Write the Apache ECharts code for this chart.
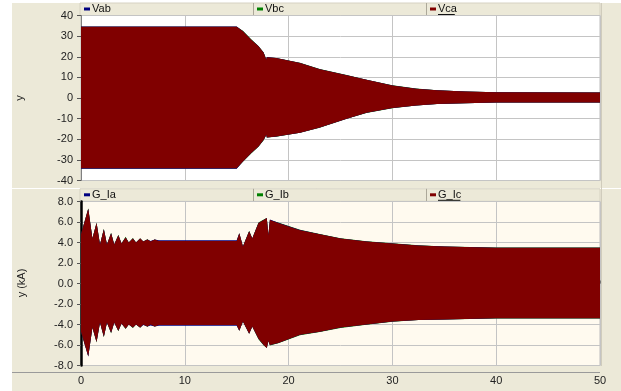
<!DOCTYPE html>
<html>
<head>
<meta charset="utf-8">
<script src="https://cdn.jsdelivr.net/npm/echarts/dist/echarts.min.js"></script>
<style>
  html, body { margin: 0; padding: 0; background: #ffffff; }
  #chart { width: 621px; height: 391px; }
</style>
</head>
<body>
<div id="chart"></div>
<script>
// ---- Line voltages: envelope of the (dense) waveforms, upper / lower bound ----
const vTime   = [0, 15.0, 15.6, 16.4, 17.1, 17.6, 17.85, 17.9, 18.8, 21.1, 23.0, 25.6, 27.5, 30.0, 32.3, 34.3, 37.0, 40.0, 50.0];
const vcaUpper = [34.5, 34.5, 32.4, 28.3, 25.1, 21.9, 18.6, 19.8, 19.4, 17.0, 14.0, 11.0, 8.8, 6.1, 4.5, 3.7, 3.1, 2.8, 2.7];
const vcaLower = [-34.0, -34.0, -30.8, -26.7, -23.5, -20.3, -17.8, -19.1, -18.7, -16.8, -14.3, -10.0, -7.2, -4.9, -3.6, -2.9, -2.5, -2.2, -2.2];
const vabUpper = [34.7, 34.7, 32.4, 28.3, 25.1, 21.9, 18.6, 19.9, 19.4, 17.0, 14.0, 11.0, 8.8, 6.1, 4.5, 3.7, 3.1, 2.8, 2.7];
const vabLower = [-34.25, -34.25, -30.8, -26.7, -23.5, -20.3, -17.8, -19.1, -18.7, -16.8, -14.3, -10.0, -7.2, -4.9, -3.6, -2.9, -2.5, -2.2, -2.2];
const vbcUpper = [34.6, 34.6, 32.55, 28.45, 25.25, 22.05, 18.7, 19.8, 19.45, 17.1, 14.1, 11.1, 8.9, 6.15, 4.55, 3.75, 3.1, 2.8, 2.7];
const vbcLower = [-34.15, -34.15, -30.95, -26.85, -23.65, -20.45, -17.9, -19.15, -18.8, -16.9, -14.4, -10.1, -7.25, -4.95, -3.65, -2.95, -2.5, -2.2, -2.2];

// ---- Generator phase currents (kA): envelope, upper / lower bound ----
const iTime = [0, 0.7, 1.1, 1.5, 1.83, 2.2, 2.5, 2.9, 3.2, 3.6, 3.9, 4.3, 4.6, 5.0, 5.3, 5.7, 6.0, 6.4, 6.7, 7.1, 7.5,
               15.0, 15.25, 15.6, 16.2, 16.5, 17.1, 17.6, 17.9, 18.05, 18.2, 19.0, 21.1, 23.0, 25.0, 27.5, 30.0, 32.5, 35.0, 40.0, 50.0];
const icUpper = [4.8, 7.3, 4.4, 5.9, 3.8, 5.3, 3.8, 4.9, 3.8, 4.7, 3.9, 4.5, 4.0, 4.4, 4.0, 4.4, 4.1, 4.3, 4.1, 4.3, 4.15,
                 4.15, 4.9, 3.6, 5.1, 4.4, 5.9, 6.2, 6.4, 4.7, 6.2, 5.9, 5.2, 4.8, 4.4, 4.1, 3.9, 3.7, 3.6, 3.5, 3.5];
const icLower = [-4.7, -7.1, -4.3, -5.7, -3.8, -5.2, -3.8, -4.8, -3.8, -4.6, -3.9, -4.4, -4.0, -4.3, -4.0, -4.3, -4.0, -4.2, -4.0, -4.2, -4.05,
                 -4.05, -4.6, -3.7, -4.9, -4.2, -5.4, -6.0, -6.3, -5.6, -6.0, -5.8, -5.0, -4.7, -4.3, -4.0, -3.7, -3.55, -3.5, -3.4, -3.4];
const iaUpper = [4.8, 7.3, 4.4, 5.9, 3.8, 5.3, 3.8, 4.9, 3.8, 4.7, 3.9, 4.5, 4.0, 4.4, 4.0, 4.4, 4.1, 4.3, 4.15, 4.3, 4.22,
                 4.22, 4.9, 3.6, 5.1, 4.4, 5.9, 6.2, 6.4, 4.7, 6.25, 5.92, 5.22, 4.8, 4.4, 4.1, 3.9, 3.7, 3.6, 3.5, 3.5];
const iaLower = [-4.7, -7.15, -4.3, -5.7, -3.8, -5.2, -3.8, -4.8, -3.8, -4.6, -3.9, -4.4, -4.0, -4.3, -4.0, -4.3, -4.05, -4.2, -4.1, -4.2, -4.12,
                 -4.12, -4.6, -3.7, -4.9, -4.2, -5.4, -6.0, -6.3, -5.6, -6.0, -5.8, -5.0, -4.7, -4.3, -4.0, -3.7, -3.55, -3.5, -3.4, -3.4];
const ibUpper = [4.8, 7.35, 4.4, 5.95, 3.8, 5.35, 3.8, 4.95, 3.8, 4.75, 3.9, 4.55, 4.0, 4.45, 4.0, 4.42, 4.1, 4.32, 4.1, 4.3, 4.15,
                 4.15, 4.9, 3.6, 5.15, 4.4, 5.95, 6.25, 6.4, 4.7, 6.2, 5.94, 5.24, 4.84, 4.42, 4.12, 3.92, 3.72, 3.62, 3.52, 3.52];
const ibLower = [-4.7, -7.1, -4.3, -5.75, -3.8, -5.25, -3.8, -4.85, -3.8, -4.65, -3.9, -4.45, -4.0, -4.35, -4.0, -4.32, -4.0, -4.22, -4.0, -4.2, -4.05,
                 -4.05, -4.6, -3.7, -4.9, -4.2, -5.45, -6.05, -6.3, -5.6, -6.05, -5.84, -5.04, -4.74, -4.34, -4.02, -3.72, -3.57, -3.52, -3.42, -3.42];

// ---- Axes ----
const timeTicks = { min: 0, max: 50, interval: 10 };
const voltTicks = { min: -40, max: 40, interval: 10 };
const currTicks = { min: -8, max: 8, interval: 2 };

const BEIGE = '#ece9d8';
const GRIDLINE = '#c4c4c4';
const FONT = 'Liberation Sans, Arial, sans-serif';

// Filled band between an upper and lower envelope, drawn as one polygon
function band(name, xi, yi, times, up, lo, color) {
  return {
    type: 'custom', name: name, xAxisIndex: xi, yAxisIndex: yi,
    clip: true, silent: true, z: 3,
    data: times.map((t, i) => [t, up[i], lo[i]]),
    encode: { x: 0, y: [1, 2] },
    renderItem: function (params, api) {
      if (params.dataIndex !== 0) return null;
      const pts = [];
      for (let i = 0; i < times.length; i++) pts.push(api.coord([times[i], up[i]]));
      for (let i = times.length - 1; i >= 0; i--) pts.push(api.coord([times[i], lo[i]]));
      return { type: 'polygon', shape: { points: pts }, style: { fill: color, stroke: null } };
    }
  };
}

// Header strip with three legend cells
function header(y, labels, colors) {
  const els = [];
  els.push({ type: 'rect', shape: { x: 80, y: y, width: 520, height: 12.5 },
             style: { fill: BEIGE, stroke: '#d6d2c2', lineWidth: 1 }, silent: true });
  const cellX = [80, 253, 426];
  [253, 426].forEach(x => els.push({ type: 'line', shape: { x1: x + 0.5, y1: y, x2: x + 0.5, y2: y + 12.5 },
                                      style: { stroke: '#aca899', lineWidth: 1 }, silent: true }));
  labels.forEach((lab, k) => {
    const x0 = cellX[k] + 4;
    els.push({ type: 'rect', shape: { x: x0, y: y + 4.5, width: 6, height: 3 }, style: { fill: colors[k] }, silent: true });
    els.push({ type: 'text', x: x0 + 8, y: y + 6.3,
               style: { text: lab, fill: '#111', font: '11px ' + FONT, textVerticalAlign: 'middle', textAlign: 'left' }, silent: true });
  });
  // active (last) trace is underlined
  const w = labels[2].length * 5.6;
  els.push({ type: 'line', shape: { x1: cellX[2] + 12, y1: y + 11.5, x2: cellX[2] + 12 + w, y2: y + 11.5 },
             style: { stroke: '#111', lineWidth: 1 }, silent: true });
  return els;
}

const chart = echarts.init(document.getElementById('chart'), null, { renderer: 'canvas' });

const option = {
  animation: false,
  backgroundColor: '#ffffff',
  textStyle: { fontFamily: FONT },
  grid: [
    { left: 81, right: 21, top: 15.5, height: 165, show: true, backgroundColor: '#ffffff', borderColor: '#bdbdbd', borderWidth: 1 },
    { left: 81, right: 21, top: 201.5, height: 164, show: true, backgroundColor: '#fffaef', borderColor: '#bdbdbd', borderWidth: 1 }
  ],
  xAxis: [
    { type: 'value', gridIndex: 0, min: timeTicks.min, max: timeTicks.max, interval: timeTicks.interval,
      axisLine: { show: false }, axisTick: { show: false }, axisLabel: { show: false },
      splitLine: { show: true, lineStyle: { color: GRIDLINE, width: 1 } } },
    { type: 'value', gridIndex: 1, min: timeTicks.min, max: timeTicks.max, interval: timeTicks.interval,
      offset: 7,
      axisLine: { show: true, lineStyle: { color: '#9a9a9a', width: 1 } },
      axisTick: { show: true, inside: true, length: 3, lineStyle: { color: '#777' } },
      axisLabel: { show: true, color: '#222', fontSize: 11, fontFamily: FONT, margin: 3 },
      splitLine: { show: true, lineStyle: { color: GRIDLINE, width: 1 } } }
  ],
  yAxis: [
    { type: 'value', gridIndex: 0, min: voltTicks.min, max: voltTicks.max, interval: voltTicks.interval,
      axisLine: { show: true, lineStyle: { color: '#808080', width: 1 } },
      axisTick: { show: true, length: 4, lineStyle: { color: '#555' } },
      axisLabel: { color: '#222', fontSize: 11, fontFamily: FONT, margin: 8 },
      splitLine: { show: true, lineStyle: { color: GRIDLINE, width: 1 } } },
    { type: 'value', gridIndex: 1, min: currTicks.min, max: currTicks.max, interval: currTicks.interval,
      axisLine: { show: true, lineStyle: { color: '#000000', width: 2.5 } },
      axisTick: { show: true, length: 4, lineStyle: { color: '#555' } },
      axisLabel: { color: '#222', fontSize: 11, fontFamily: FONT, margin: 8,
                   formatter: v => v.toFixed(1) },
      splitLine: { show: true, lineStyle: { color: GRIDLINE, width: 1 } } }
  ],
  series: [
    band('Vbc', 0, 0, vTime, vbcUpper, vbcLower, '#008000'),
    band('Vab', 0, 0, vTime, vabUpper, vabLower, '#000080'),
    band('Vca', 0, 0, vTime, vcaUpper, vcaLower, '#800000'),
    band('G_Ib', 1, 1, iTime, ibUpper, ibLower, '#008000'),
    band('G_Ia', 1, 1, iTime, iaUpper, iaLower, '#000080'),
    band('G_Ic', 1, 1, iTime, icUpper, icLower, '#800000')
  ],
  graphic: [
    { type: 'rect', z: -10, shape: { x: 12, y: 3, width: 609, height: 388 }, style: { fill: BEIGE }, silent: true },
    { type: 'line', z: -5, shape: { x1: 12, y1: 188.5, x2: 621, y2: 188.5 }, style: { stroke: '#ffffff', lineWidth: 1 }, silent: true },
    { type: 'line', z: -5, shape: { x1: 12, y1: 372.5, x2: 600, y2: 372.5 }, style: { stroke: '#9a9a9a', lineWidth: 1 }, silent: true },
    { type: 'line', z: -5, shape: { x1: 601.5, y1: 3, x2: 601.5, y2: 366 }, style: { stroke: '#d0ccbc', lineWidth: 1 }, silent: true },
    ...header(3, ['Vab', 'Vbc', 'Vca'], ['#000080', '#008000', '#800000']),
    ...header(188.8, ['G_Ia', 'G_Ib', 'G_Ic'], ['#000080', '#008000', '#800000']),
    { type: 'text', x: 20, y: 98, rotation: Math.PI / 2,
      style: { text: 'y', fill: '#222', font: '11px ' + FONT, textAlign: 'center', textVerticalAlign: 'middle' }, silent: true },
    { type: 'text', x: 22, y: 283, rotation: Math.PI / 2,
      style: { text: 'y (kA)', fill: '#222', font: '11px ' + FONT, textAlign: 'center', textVerticalAlign: 'middle' }, silent: true }
  ]
};

chart.setOption(option);
</script>
</body>
</html>
